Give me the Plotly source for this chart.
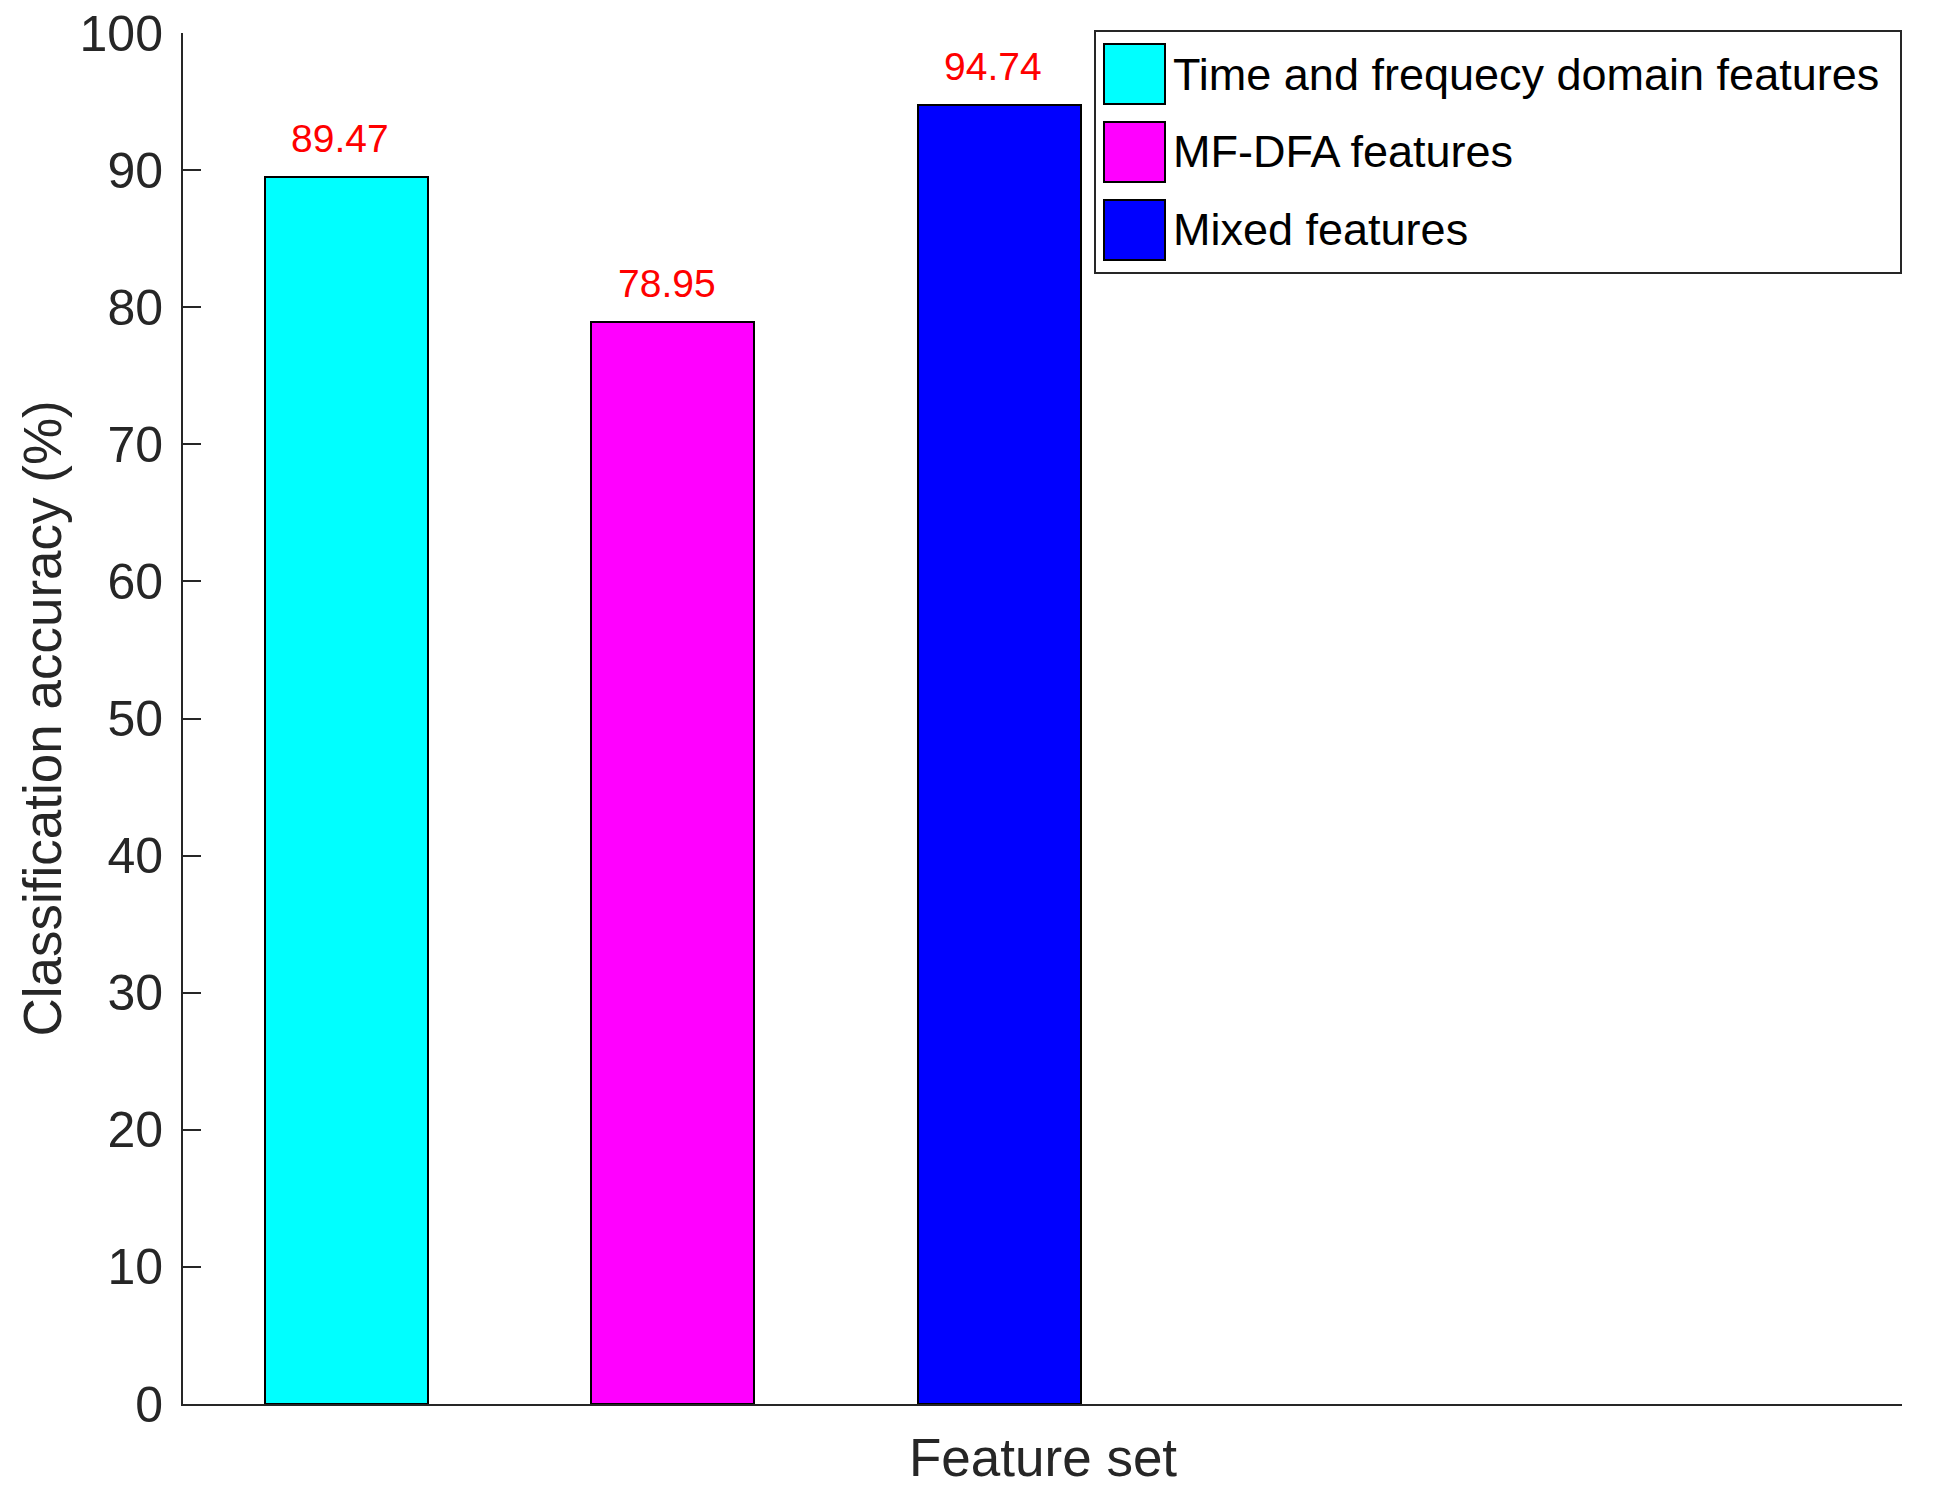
import plotly.graph_objects as go

# ---- data ----
feature_sets = ["Time and frequecy domain features", "MF-DFA features", "Mixed features"]
bar_positions = [1, 2, 3]
accuracy = [89.47, 78.95, 94.74]
bar_colors = ["#00FFFF", "#FF00FF", "#0000FF"]
y_ticks = [0, 10, 20, 30, 40, 50, 60, 70, 80, 90, 100]

W, H = 1942, 1495
# plot area in page pixels
L, R, T, B = 183, 1902, 33, 1404
FONT = "Liberation Sans, Arial, Helvetica, sans-serif"
AX = "#262626"


def px(x):
    return (x - L) / (R - L)


def py(y):
    return (B - y) / (B - T)


fig = go.Figure()
for name, xpos, val, col in zip(feature_sets, bar_positions, accuracy, bar_colors):
    fig.add_trace(go.Bar(
        x=[xpos], y=[val], width=0.5, name=name,
        marker=dict(color=col, line=dict(color="black", width=2)),
        showlegend=False,
    ))
    fig.add_annotation(
        x=xpos, y=val, xref="x", yref="y", text=f"{val:.2f}",
        showarrow=False, yanchor="bottom", xanchor="center",
        yshift=15, xshift=-6,
        font=dict(family=FONT, size=39, color="#FF0000"),
    )

# custom legend (MATLAB-style large swatches)
shapes = [dict(type="rect", xref="paper", yref="paper",
               x0=px(1095), x1=px(1901), y0=py(273), y1=py(31),
               line=dict(color=AX, width=2), fillcolor="white", layer="above")]
row_centers = [74, 152, 230]
for name, col, cy in zip(feature_sets, bar_colors, row_centers):
    shapes.append(dict(type="rect", xref="paper", yref="paper",
                       x0=px(1104), x1=px(1165), y0=py(cy + 30), y1=py(cy - 30),
                       line=dict(color="black", width=2), fillcolor=col, layer="above"))
    fig.add_annotation(x=px(1171), y=py(cy), xref="paper", yref="paper",
                       text=name, showarrow=False, xanchor="left", yanchor="middle",
                       font=dict(family=FONT, size=45, color="black"))

# axis titles
fig.add_annotation(x=0.5, y=0, xref="paper", yref="paper", text="Feature set",
                   showarrow=False, xanchor="center", yanchor="top", yshift=-22,
                   font=dict(family=FONT, size=53, color=AX))
fig.add_annotation(x=px(42), y=0.5, xref="paper", yref="paper",
                   text="Classification accuracy (%)", textangle=-90,
                   showarrow=False, xanchor="center", yanchor="middle",
                   font=dict(family=FONT, size=53, color=AX))

fig.update_layout(
    width=W, height=H,
    margin=dict(l=L, r=W - R, t=T, b=H - B, autoexpand=False),
    paper_bgcolor="white", plot_bgcolor="white",
    barmode="overlay", bargap=0,
    shapes=shapes,
    showlegend=False,
    xaxis=dict(range=[0.5, 5.765], showticklabels=False, ticks="",
               showgrid=False, zeroline=False, showline=True,
               linecolor=AX, linewidth=2, fixedrange=True),
    yaxis=dict(range=[0, 100], tickvals=y_ticks, ticks="inside", ticklen=18,
               tickwidth=2, tickcolor=AX, showgrid=False, zeroline=False,
               showline=True, linecolor=AX, linewidth=2,
               tickfont=dict(family=FONT, size=50, color=AX),
               ticklabelstandoff=8, ticklabeloverflow="allow"),
)

fig.write_html("out.html",
               config={"displayModeBar": False},
               post_script="document.body.style.margin='0';document.body.style.overflow='hidden';")
